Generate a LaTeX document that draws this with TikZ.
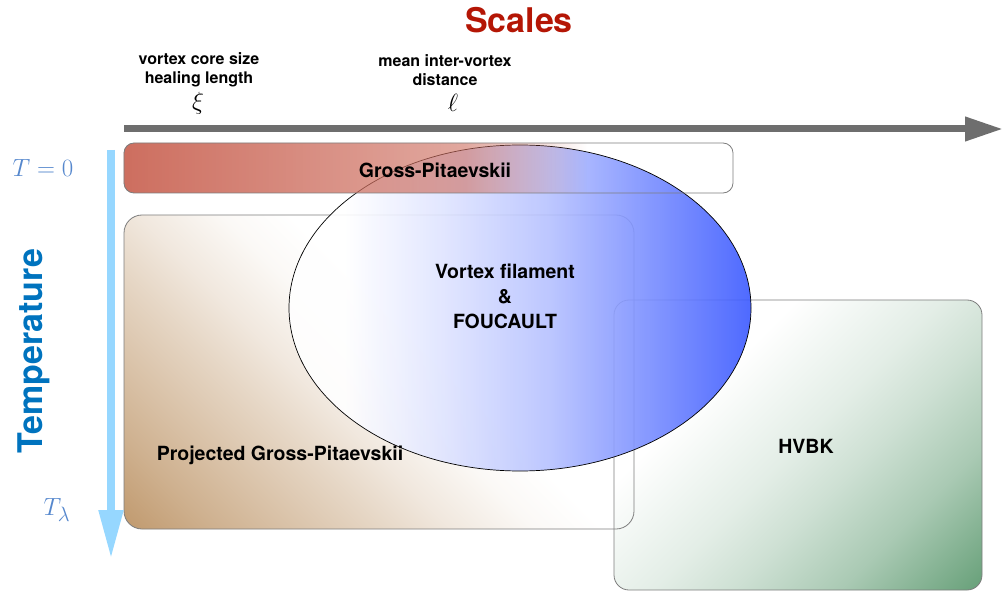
\documentclass[tikz,border=0pt]{standalone}
\usepackage[no-math]{fontspec}
\setmainfont{TeX Gyre Heros}
\usetikzlibrary{arrows.meta,fadings}

\definecolor{ScaleRed}{RGB}{180,22,5}
\definecolor{AxisGray}{RGB}{110,110,110}
\definecolor{TempBlue}{RGB}{0,115,190}
\definecolor{TLabel}{RGB}{85,135,205}
\definecolor{TArrow}{RGB}{150,215,255}
\definecolor{GPRed}{RGB}{205,110,95}
\definecolor{PGPBrown}{RGB}{190,150,105}
\definecolor{HVGreen}{RGB}{100,158,118}
\definecolor{VFBlue}{RGB}{60,90,255}
\definecolor{BoxLine}{RGB}{125,125,125}

\pgfdeclarehorizontalshading{pgpshade}{100bp}{color(0bp)=(PGPBrown); color(25bp)=(PGPBrown); color(31bp)=(PGPBrown!75); color(41bp)=(PGPBrown!38); color(45bp)=(PGPBrown!22); color(50bp)=(PGPBrown!6); color(54bp)=(white); color(100bp)=(white)}
\pgfdeclarehorizontalshading{hvshade}{100bp}{color(0bp)=(white); color(39bp)=(white); color(50bp)=(HVGreen!18); color(56bp)=(HVGreen!32); color(64bp)=(HVGreen!55); color(75bp)=(HVGreen); color(100bp)=(HVGreen)}
\pgfdeclarehorizontalshading{vfshade}{100bp}{color(0bp)=(white); color(31bp)=(white); color(42bp)=(VFBlue!17); color(53bp)=(VFBlue!37); color(63bp)=(VFBlue!66); color(75bp)=(VFBlue); color(100bp)=(VFBlue)}

\begin{tikzfadingfrompicture}[name=gpfade]
  \fill[transparent!0] (-50bp,-50bp) rectangle (-25bp,50bp);
  \shade[left color=transparent!0, right color=transparent!40] (-25bp,-50bp) rectangle (3bp,50bp);
  \shade[left color=transparent!40, right color=transparent!100] (3bp,-50bp) rectangle (13bp,50bp);
  \fill[transparent!100] (13bp,-50bp) rectangle (50bp,50bp);
\end{tikzfadingfrompicture}

\begin{document}
\begin{tikzpicture}[x=1pt,y=-1pt,
  modelbox/.style={draw=BoxLine, line width=0.8pt},
  modellabel/.style={font=\fontsize{19.5}{25}\selectfont\bfseries, align=center},
  scalelabel/.style={font=\fontsize{16}{19}\selectfont\bfseries, align=center},
  templabel/.style={text=TLabel, font=\fontsize{28}{30}\selectfont}]

  \newcommand\RX{231}
  \newcommand\RY{163}

  \useasboundingbox (0,0) rectangle (1003,593);

  %% projected GP and HVBK fills, diagonal gradients
  \begin{scope}
    \clip[rounded corners=18pt] (124,215) rectangle (634,529);
    \shade[shading=pgpshade, transform canvas={rotate around={45:(379,372)}}] (79,72) rectangle (679,672);
  \end{scope}
  \begin{scope}
    \clip[rounded corners=15pt] (614,300) rectangle (982,590);
    \shade[shading=hvshade, transform canvas={rotate around={-45:(798,445)}}] (562,209) rectangle (1034,681);
  \end{scope}
  \draw[modelbox, rounded corners=18pt] (124,215) rectangle (634,529);
  \draw[modelbox, rounded corners=15pt] (614,300) rectangle (982,590);

  %% vortex filament region
  \shade[shading=vfshade, fill opacity=0.9] (520,308) ellipse [x radius=\RX, y radius=\RY];
  \draw[line width=0.7pt] (520,308) ellipse [x radius=\RX, y radius=\RY];

  %% GP strip on top, fades out to the right
  \fill[GPRed, path fading=gpfade, rounded corners=10pt] (124,143) rectangle (733,193);
  \draw[modelbox, rounded corners=10pt] (124,143) rectangle (733,193);

  %% axes
  \coordinate (sbeg) at (124,129);
  \coordinate (send) at (1003,129);
  \draw[AxisGray, line width=7pt, -{Triangle[length=38pt,width=23pt]}] (sbeg) -- (send);

  \coordinate (tbeg) at (111,150);
  \coordinate (tend) at (111,559);
  \draw[TArrow, line width=8pt, -{Triangle[length=49pt,width=23pt]}] (tbeg) -- (tend);

  %% labels
  \node[text=ScaleRed, font=\fontsize{34}{36}\selectfont\bfseries] (scales) at (519,20) {Scales};
  \node[scalelabel] (corelab) at (199,70) {vortex core size\\healing length};
  \node[scalelabel] (distlab) at (445,70) {mean inter-vortex\\distance};
  \node[font=\fontsize{26}{28}\selectfont] (xi) at (198,103) {$\xi$};
  \node[font=\fontsize{26}{28}\selectfont] (ell) at (453,103) {$\ell$};

  \node[templabel] (tzero) at (43,168) {$T=0$};
  \node[templabel] (tlambda) at (57,510) {$T_\lambda$};
  \node[rotate=90, text=TempBlue, font=\fontsize{34}{36}\selectfont\bfseries] (temp) at (34,351) {Temperature};

  \node[modellabel] (gp) at (435,170) {Gross-Pitaevskii};
  \node[modellabel] (pgp) at (280,455) {Projected Gross-Pitaevskii};
  \node[modellabel] (hvbk) at (806,446) {HVBK};
  \node[modellabel] (vf) at (505,296) {Vortex filament\\\&\\FOUCAULT};

\end{tikzpicture}
\end{document}
